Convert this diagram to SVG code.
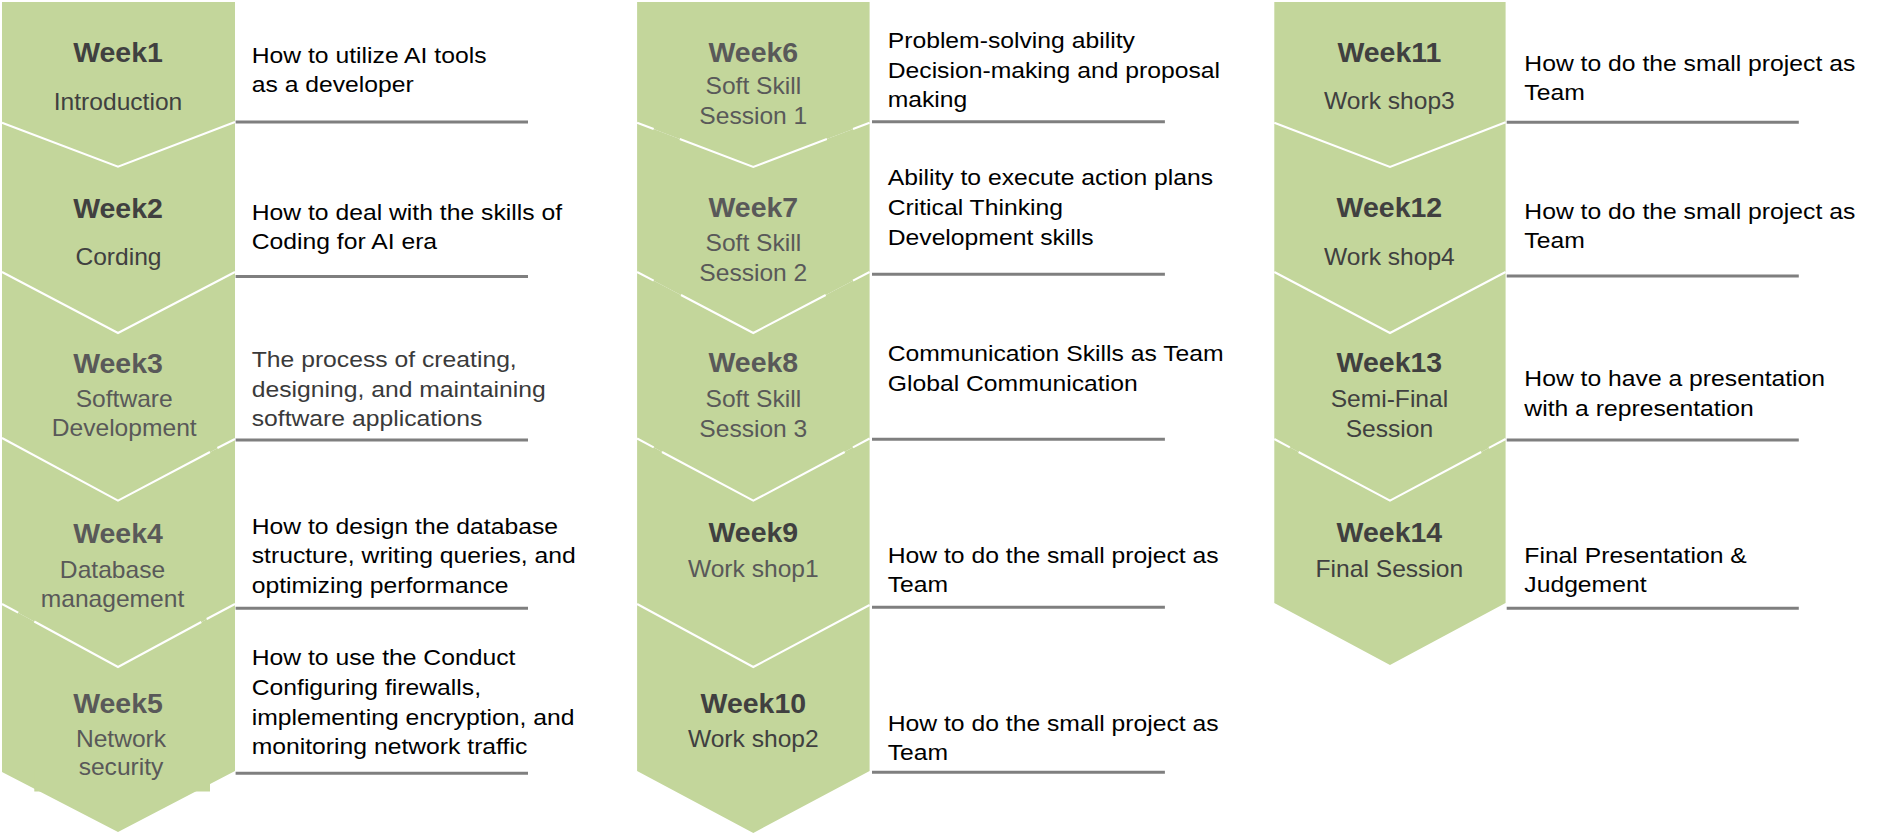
<svg xmlns="http://www.w3.org/2000/svg" width="1883" height="838" viewBox="0 0 1883 838">
<style>
.bg{fill:#c3d69b}
.sep{fill:none;stroke:#ffffff;stroke-width:2}
text{font-family:"Liberation Sans",Arial,sans-serif}
.wk{font-size:27px;font-weight:bold;text-anchor:middle}
.sub{font-size:23px;text-anchor:middle}
.desc{font-size:23px;fill:#000000}
.dark{fill:#404040}
.light{fill:#595959}
.desc3{fill:#3a3a3a}
.rule{stroke:#7f7f7f;stroke-width:3}
</style>
<rect width="1883" height="838" fill="#ffffff"/>

<!-- Column 1 -->
<g id="week1">
<path class="bg" d="M2,2 H235 V122 L118,166.7 L2,122.7 Z"/>
<g transform="translate(118 0) scale(1.055 1)"><text class="wk dark" x="0" y="62">Week1</text></g>
<g transform="translate(118 0) scale(1.07 1)"><text class="sub dark" x="0" y="110">Introduction</text></g>
<g transform="translate(251.7 0) scale(1.075 1)">
<text class="desc" x="0" y="62.7">How to utilize AI tools</text>
<text class="desc" x="0" y="91.7">as a developer</text>
</g>
<line class="rule" x1="235.6" y1="122" x2="528" y2="122"/>
</g>
<g id="week2">
<path class="bg" d="M2,122.7 L118,166.7 L235,122 V272 L118,333 L2,272 Z"/>
<polyline class="sep" points="2,122.7 118,166.7 235,122"/>
<g transform="translate(118 0) scale(1.055 1)"><text class="wk dark" x="0" y="218.3">Week2</text></g>
<g transform="translate(118.5 0) scale(1.07 1)"><text class="sub dark" x="0" y="265">Cording</text></g>
<g transform="translate(251.7 0) scale(1.075 1)">
<text class="desc" x="0" y="220">How to deal with the skills of</text>
<text class="desc" x="0" y="249.3">Coding for AI era</text>
</g>
<line class="rule" x1="235.6" y1="276.5" x2="528" y2="276.5"/>
</g>
<g id="week3">
<path class="bg" d="M2,272 L118,333 L235,272 V439 L118,500.7 L2,438 Z"/>
<polyline class="sep" points="2,272 118,333 235,272"/>
<g transform="translate(118 0) scale(1.055 1)"><text class="wk light" x="0" y="372.7">Week3</text></g>
<g transform="translate(124.2 0) scale(1.07 1)">
<text class="sub light" x="0" y="406.7">Software</text>
<text class="sub light" x="0" y="436">Development</text>
</g>
<g transform="translate(251.7 0) scale(1.075 1)">
<text class="desc desc3" x="0" y="367.3">The process of creating,</text>
<text class="desc desc3" x="0" y="396.7">designing, and maintaining</text>
<text class="desc desc3" x="0" y="426">software applications</text>
</g>
<line class="rule" x1="235.6" y1="440" x2="528" y2="440"/>
</g>
<g id="week4">
<path class="bg" d="M2,438 L118,500.7 L235,439 V604 L118,667 L2,604 Z"/>
<polyline class="sep" points="2,438 118,500.7 210,452"/>
<line class="sep" x1="217.4" y1="448" x2="235" y2="439"/>
<g transform="translate(118 0) scale(1.055 1)"><text class="wk light" x="0" y="543.3">Week4</text></g>
<g transform="translate(112.5 0) scale(1.07 1)">
<text class="sub light" x="0" y="578.3">Database</text>
<text class="sub light" x="0" y="606.7">management</text>
</g>
<g transform="translate(251.7 0) scale(1.075 1)">
<text class="desc" x="0" y="534">How to design the database</text>
<text class="desc" x="0" y="563.3">structure, writing queries, and</text>
<text class="desc" x="0" y="593.3">optimizing performance</text>
</g>
<line class="rule" x1="235.6" y1="608.3" x2="528" y2="608.3"/>
</g>
<g id="week5">
<path class="bg" d="M2,604 L118,667 L235,604 V771 L118,832 L2,772 Z"/>
<rect class="bg" x="34.3" y="770" width="175.7" height="21.5"/>
<line class="sep" x1="2" y1="604" x2="18.2" y2="612.7"/>
<polyline class="sep" points="34.3,621.5 118,667 201.3,622"/>
<line class="sep" x1="206.7" y1="619" x2="235" y2="604"/>
<g transform="translate(118 0) scale(1.055 1)"><text class="wk light" x="0" y="712.7">Week5</text></g>
<g transform="translate(121 0) scale(1.07 1)">
<text class="sub light" x="0" y="746.7">Network</text>
<text class="sub light" x="0" y="775">security</text>
</g>
<g transform="translate(251.7 0) scale(1.075 1)">
<text class="desc" x="0" y="665">How to use the Conduct</text>
<text class="desc" x="0" y="695">Configuring firewalls,</text>
<text class="desc" x="0" y="725">implementing encryption, and</text>
<text class="desc" x="0" y="754">monitoring network traffic</text>
</g>
<line class="rule" x1="235.6" y1="773.3" x2="528" y2="773.3"/>
</g>

<!-- Column 2 -->
<g id="week6">
<path class="bg" d="M637.1,2 H869.6 V122.7 L753.3,167 L637.1,122.7 Z"/>
<g transform="translate(753.3 0) scale(1.055 1)"><text class="wk light" x="0" y="61.7">Week6</text></g>
<g transform="translate(753.3 0) scale(1.07 1)">
<text class="sub light" x="0" y="94.3">Soft Skill</text>
<text class="sub light" x="0" y="124.3">Session 1</text>
</g>
<g transform="translate(887.7 0) scale(1.075 1)">
<text class="desc" x="0" y="48.3">Problem-solving ability</text>
<text class="desc" x="0" y="77.7">Decision-making and proposal</text>
<text class="desc" x="0" y="107.3">making</text>
</g>
<line class="rule" x1="872" y1="121.7" x2="1164.9" y2="121.7"/>
</g>
<g id="week7">
<path class="bg" d="M637.1,122.7 L753.3,167 L869.6,122.7 V272 L753.3,333 L637.1,272 Z"/>
<line class="sep" x1="637.1" y1="122.7" x2="653.7" y2="129"/>
<polyline class="sep" points="679.8,139 753.3,167 826.9,139"/>
<line class="sep" x1="853" y1="129" x2="869.6" y2="122.7"/>
<g transform="translate(753.3 0) scale(1.055 1)"><text class="wk light" x="0" y="216.7">Week7</text></g>
<g transform="translate(753.3 0) scale(1.07 1)">
<text class="sub light" x="0" y="250.7">Soft Skill</text>
<text class="sub light" x="0" y="280.7">Session 2</text>
</g>
<g transform="translate(887.7 0) scale(1.075 1)">
<text class="desc" x="0" y="185">Ability to execute action plans</text>
<text class="desc" x="0" y="215">Critical Thinking</text>
<text class="desc" x="0" y="245">Development skills</text>
</g>
<line class="rule" x1="872" y1="274.3" x2="1164.9" y2="274.3"/>
</g>
<g id="week8">
<path class="bg" d="M637.1,272 L753.3,333 L869.6,272 V438.5 L753.3,500.7 L637.1,438.5 Z"/>
<line class="sep" x1="637.1" y1="272" x2="653.7" y2="280.7"/>
<polyline class="sep" points="681,295 753.3,333 825.7,295"/>
<line class="sep" x1="853" y1="280.7" x2="869.6" y2="272"/>
<g transform="translate(753.3 0) scale(1.055 1)"><text class="wk light" x="0" y="371.7">Week8</text></g>
<g transform="translate(753.3 0) scale(1.07 1)">
<text class="sub light" x="0" y="406.7">Soft Skill</text>
<text class="sub light" x="0" y="436.7">Session 3</text>
</g>
<g transform="translate(887.7 0) scale(1.075 1)">
<text class="desc" x="0" y="361">Communication Skills as Team</text>
<text class="desc" x="0" y="391">Global Communication</text>
</g>
<line class="rule" x1="872" y1="439.3" x2="1164.9" y2="439.3"/>
</g>
<g id="week9">
<path class="bg" d="M637.1,438.5 L753.3,500.7 L869.6,438.5 V605 L753.3,667 L637.1,604 Z"/>
<line class="sep" x1="637.1" y1="438.5" x2="653.7" y2="447.4"/>
<polyline class="sep" points="662,452 753.3,500.7 844.7,452"/>
<line class="sep" x1="853" y1="447.4" x2="869.6" y2="438.5"/>
<g transform="translate(753.3 0) scale(1.055 1)"><text class="wk dark" x="0" y="542.3">Week9</text></g>
<g transform="translate(753.3 0) scale(1.07 1)"><text class="sub light" x="0" y="576.7">Work shop1</text></g>
<g transform="translate(887.7 0) scale(1.075 1)">
<text class="desc" x="0" y="562.7">How to do the small project as</text>
<text class="desc" x="0" y="591.7">Team</text>
</g>
<line class="rule" x1="872" y1="607.3" x2="1164.9" y2="607.3"/>
</g>
<g id="week10">
<path class="bg" d="M637.1,604 L753.3,667 L869.6,605 V771 L753.3,833 L637.1,771 Z"/>
<polyline class="sep" points="637.1,604 753.3,667 869.6,605"/>
<g transform="translate(753.3 0) scale(1.055 1)"><text class="wk dark" x="0" y="713.3">Week10</text></g>
<g transform="translate(753.3 0) scale(1.07 1)"><text class="sub dark" x="0" y="747.3">Work shop2</text></g>
<g transform="translate(887.7 0) scale(1.075 1)">
<text class="desc" x="0" y="730.7">How to do the small project as</text>
<text class="desc" x="0" y="760">Team</text>
</g>
<line class="rule" x1="872" y1="772.3" x2="1164.9" y2="772.3"/>
</g>

<!-- Column 3 -->
<g id="week11">
<path class="bg" d="M1274.3,2 H1505.6 V122.3 L1390,167 L1274.3,122.7 Z"/>
<g transform="translate(1389.4 0) scale(1.055 1)"><text class="wk dark" x="0" y="61.7">Week11</text></g>
<g transform="translate(1389.4 0) scale(1.07 1)"><text class="sub dark" x="0" y="109.3">Work shop3</text></g>
<g transform="translate(1524.3 0) scale(1.075 1)">
<text class="desc" x="0" y="70.7">How to do the small project as</text>
<text class="desc" x="0" y="100">Team</text>
</g>
<line class="rule" x1="1506.7" y1="122.3" x2="1798.8" y2="122.3"/>
</g>
<g id="week12">
<path class="bg" d="M1274.3,122.7 L1390,167 L1505.6,122.3 V272 L1390,333 L1274.3,272 Z"/>
<polyline class="sep" points="1274.3,122.7 1390,167 1505.6,122.3"/>
<g transform="translate(1389.4 0) scale(1.055 1)"><text class="wk dark" x="0" y="217.3">Week12</text></g>
<g transform="translate(1389.4 0) scale(1.07 1)"><text class="sub dark" x="0" y="265">Work shop4</text></g>
<g transform="translate(1524.3 0) scale(1.075 1)">
<text class="desc" x="0" y="219.3">How to do the small project as</text>
<text class="desc" x="0" y="248.3">Team</text>
</g>
<line class="rule" x1="1506.7" y1="276" x2="1798.8" y2="276"/>
</g>
<g id="week13">
<path class="bg" d="M1274.3,272 L1390,333 L1505.6,272 V439 L1390,500.7 L1274.3,439 Z"/>
<polyline class="sep" points="1274.3,272 1390,333 1505.6,272"/>
<g transform="translate(1389.4 0) scale(1.055 1)"><text class="wk dark" x="0" y="371.7">Week13</text></g>
<g transform="translate(1389.4 0) scale(1.07 1)">
<text class="sub dark" x="0" y="406.7">Semi-Final</text>
<text class="sub dark" x="0" y="436.7">Session</text>
</g>
<g transform="translate(1524.3 0) scale(1.075 1)">
<text class="desc" x="0" y="385.7">How to have a presentation</text>
<text class="desc" x="0" y="415.7">with a representation</text>
</g>
<line class="rule" x1="1506.7" y1="440" x2="1798.8" y2="440"/>
</g>
<g id="week14">
<path class="bg" d="M1274.3,439 L1390,500.7 L1505.6,439 V603 L1390,665 L1274.3,603 Z"/>
<line class="sep" x1="1274.3" y1="439" x2="1289.8" y2="447.3"/>
<polyline class="sep" points="1298.6,452 1390,500.7 1481.2,452"/>
<line class="sep" x1="1488.9" y1="447.9" x2="1505.6" y2="439"/>
<g transform="translate(1389.4 0) scale(1.055 1)"><text class="wk dark" x="0" y="542.3">Week14</text></g>
<g transform="translate(1389.4 0) scale(1.07 1)"><text class="sub dark" x="0" y="577.3">Final Session</text></g>
<g transform="translate(1524.3 0) scale(1.075 1)">
<text class="desc" x="0" y="562.7">Final Presentation &amp;</text>
<text class="desc" x="0" y="592.3">Judgement</text>
</g>
<line class="rule" x1="1506.7" y1="608.3" x2="1798.8" y2="608.3"/>
</g>

<g id="connectors"></g>
</svg>
